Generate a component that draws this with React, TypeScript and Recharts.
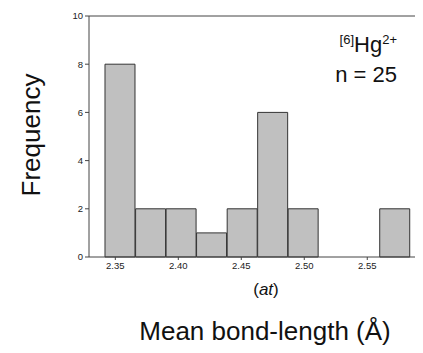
import { BarChart, Bar, XAxis, YAxis, ReferenceLine } from 'recharts';

// histogram bins (centre of each bin, Å) and counts
const binCenters = [2.3539, 2.3782, 2.4024, 2.4266, 2.4509, 2.4751, 2.4993, 2.5236, 2.5478, 2.572];
const counts = [8, 2, 2, 1, 2, 6, 2, 0, 0, 2];
const xTicks = [2.35, 2.4, 2.45, 2.5, 2.55];
const yTicks = [0, 2, 4, 6, 8, 10];

const data = binCenters.map((x, i) => ({ x, count: counts[i] }));

const axisColor = '#444';
const font = 'Arial, "Liberation Sans", sans-serif';

export default function App() {
  return (
    <div style={{ position: 'relative', width: 423, height: 353, background: '#fff', fontFamily: font }}>
      <style>{`body { margin: 0; }`}</style>
      <BarChart
        width={423}
        height={353}
        data={data}
        margin={{ top: 16, right: 8, left: 0, bottom: 76 }}
        barCategoryGap={0}
        barGap={0}
      >
        <XAxis
          dataKey="x"
          type="number"
          domain={[2.3291, 2.5879]}
          ticks={xTicks}
          tickFormatter={(v: number) => v.toFixed(2)}
          allowDataOverflow
          height={20}
          stroke={axisColor}
          tickSize={3}
          tick={{ fill: '#222', fontSize: 9.5, fontFamily: font }}
        />
        <YAxis
          domain={[0, 10]}
          ticks={yTicks}
          width={89}
          stroke={axisColor}
          tickSize={4}
          tick={{ fill: '#222', fontSize: 9.5, fontFamily: font }}
        />
        <ReferenceLine y={10} stroke={axisColor} />
        <Bar dataKey="count" fill="#c0c0c0" stroke="#333" strokeWidth={1} isAnimationActive={false} />
      </BarChart>
      <div style={{ position: 'absolute', left: 266, top: 290, transform: 'translate(-50%, -50%)', fontSize: 17, color: '#111', whiteSpace: 'nowrap' }}>
        (<i>at</i>)
      </div>
      <div style={{ position: 'absolute', left: 31, top: 135, transform: 'translate(-50%, -50%) rotate(-90deg)', fontSize: 26, color: '#111', whiteSpace: 'nowrap' }}>
        Frequency
      </div>
      <div style={{ position: 'absolute', left: 265, top: 331, transform: 'translate(-50%, -50%)', fontSize: 26, color: '#111', whiteSpace: 'nowrap' }}>
        Mean bond-length (Å)
      </div>
      <div style={{ position: 'absolute', right: 26, top: 25, fontSize: 22, color: '#111', whiteSpace: 'nowrap', lineHeight: '30px', textAlign: 'right' }}>
        <div><sup style={{ fontSize: 13 }}>[6]</sup>Hg<sup style={{ fontSize: 13 }}>2+</sup></div>
        <div>n = 25</div>
      </div>
    </div>
  );
}
